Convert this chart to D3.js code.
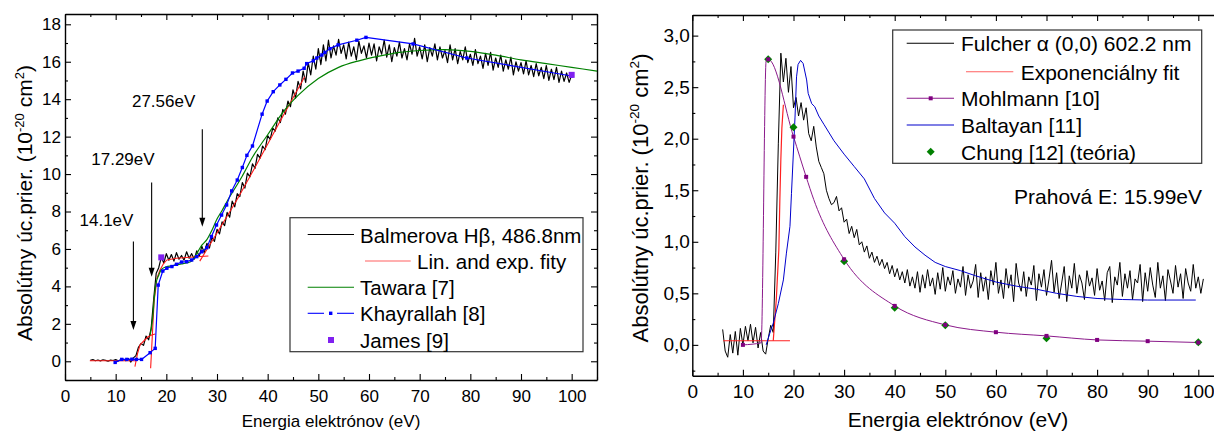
<!DOCTYPE html>
<html>
<head>
<meta charset="utf-8">
<script src="https://cdn.jsdelivr.net/npm/d3@7"></script>
<style>
body { margin: 0; background: #fff; }
svg { display: block; font-family: "Liberation Sans", Arial, sans-serif; }
.axis path { stroke: #000; stroke-width: 1.4; }
.axis line { stroke: #000; stroke-width: 1.1; }
.axis text { fill: #000; font-family: "Liberation Sans", Arial, sans-serif; }
</style>
</head>
<body>
<svg width="1214" height="432"></svg>
<script>
// ---- left panel data (Balmer H-beta) ----
var balmerStart = 5, balmerStep = 0.5;
var balmerY = [
  0.05,0.09,0.03,0.07,0.02,0.08,0.05,0.01,0.06,0.04,
  0.09,0.02,0.07,0.11,0.03,0.14,-0.04,0.18,0.3,0.75,
  0.95,0.85,1.35,1.15,1.75,3.3,4.7,5.0,5.55,5.25,
  5.75,5.4,5.7,5.35,5.8,5.45,5.65,5.4,5.85,5.5,
  5.75,5.45,5.9,5.6,6.15,5.8,6.3,6.05,6.65,6.4,
  7.05,6.8,7.45,7.25,7.95,7.7,8.55,8.25,8.95,8.8,
  9.55,9.25,10.05,9.85,10.55,10.3,11.05,10.85,11.5,11.3,
  12.05,11.85,12.45,12.3,13.0,12.75,13.45,13.2,13.9,13.6,
  14.5,14.05,14.95,14.55,15.5,14.9,15.95,15.3,16.3,15.6,
  16.7,15.85,16.9,16.05,17.15,16.2,16.85,16.35,17.2,16.45,
  16.9,16.15,17.05,16.3,16.8,16.1,17.1,16.45,16.85,16.2,
  17.0,16.35,16.95,16.05,16.8,16.4,17.15,16.25,16.9,16.0,
  16.75,16.3,17.05,16.2,16.7,16.1,16.95,16.4,17.25,16.3,
  16.8,16.15,16.9,16.0,16.75,16.3,16.95,16.1,16.8,16.2,
  16.6,15.95,16.9,16.1,16.7,15.9,16.55,16.1,16.8,15.95,
  16.4,15.8,16.65,15.9,16.3,15.65,16.45,15.8,16.5,15.55,
  16.2,15.7,16.35,15.5,16.1,15.6,16.25,15.3,16.0,15.5,
  15.95,15.35,16.05,15.3,15.8,15.2,15.9,15.25,15.7,15.1,
  15.8,15.0,15.6,15.05,15.7,14.9,15.5,14.95,15.4,14.9,
  15.3
];

// fits, each segment is [energies, values]
var fitSegments = [
  [[4.9, 14.1], [0.03, 0.03]],
  [[13.8, 14.3, 14.8, 15.5, 16.4, 17.1, 17.8], [-0.29, 0.4, 0.87, 1.07, 1.31, 1.4, 1.46]],
  [[16.9, 17.6, 18.1], [-0.37, 3.27, 4.25]],
  [[18.1, 18.75, 19.4, 20.1, 22, 24, 26, 28.3], [4.4, 4.88, 5.2, 5.41, 5.5, 5.54, 5.58, 5.62]],
  [[26.6, 30, 34, 38, 42, 47.3], [5.35, 6.85, 8.65, 10.6, 12.6, 15.2]]
];

var tawaraE = [16.8,17.3,17.7,18,18.5,19,20,21,22,23,24,25,26,27,28,29,30,31,32,33,35,37,40,43,46,50,54,58,62,66,70,75,80,85,90,95,100,105];
var tawaraS = [1.4,2.3,3.6,4.2,4.6,4.9,5.05,5.1,5.15,5.2,5.25,5.35,5.75,6.2,6.5,7.0,7.6,8.05,8.55,9.0,9.9,10.9,12.1,13.3,14.2,15.1,15.7,16.05,16.3,16.5,16.6,16.65,16.55,16.35,16.1,15.9,15.7,15.5];

var khayE = [9.9,11.2,12.2,13.2,14.1,15.1,16.8,17.8,18.4,19.3,20.1,21.1,22,23,24,25,26,27,28,28.9,29.9,30.9,31.9,32.9,34,35,35.9,37,38.9,39.9,41.1,42.4,43.6,44.9,46,47.2,47.7,49,49.7,50.7,51.3,52.3,53.9,57.6,59.4,68.7,79.3,100];
var khayS = [-0.06,0.1,0.1,0.11,0.1,0.1,0.46,0.69,4.07,4.82,4.97,5.06,5.18,5.3,5.32,5.41,5.59,5.85,6.07,6.66,7.28,7.81,8.35,9.1,9.68,10.35,11.0,11.5,13.2,13.9,14.4,14.76,15.06,15.4,15.5,15.65,15.9,16.05,16.2,16.36,16.5,16.7,16.9,17.15,17.3,16.95,16.2,15.24];

var jamesE = [19, 100];
var jamesS = [5.55, 15.3];

var thresholdE = [13.5, 17.1, 27.1];
var thresholdTop = [6.4, 9.55, 12.4];
var thresholdTip = [1.67, 4.52, 7.19];
var thresholdLabels = ["14.1eV", "17.29eV", "27.56eV"];
var thresholdLabelY = [7.2, 10.5, 13.6];

var leftLegend = ["Balmerova H\u03B2, 486.8nm", "Lin. and exp. fity", "Tawara [7]", "Khayrallah [8]", "James [9]"];

// ---- right panel data (Fulcher alpha) ----
var fulcherStart = 6, fulcherStep = 0.5;
var fulcherY = [
  0.15,-0.06,-0.12,0.1,-0.08,0.13,-0.1,0.16,0.0,0.18,
  0.04,0.2,0.02,0.17,-0.03,0.12,-0.06,-0.09,0.06,0.19,
  0.12,0.9,1.95,2.83,2.55,2.78,2.45,2.7,2.3,2.4,
  2.22,2.35,2.18,2.3,2.05,1.98,2.12,1.92,1.78,1.72,
  1.66,1.5,1.42,1.36,1.38,1.44,1.3,1.33,1.19,1.22,
  1.08,1.15,1.04,1.12,0.97,1.0,0.9,0.96,0.84,0.9,
  0.8,0.86,0.77,0.83,0.74,0.8,0.69,0.77,0.66,0.74,
  0.63,0.71,0.6,0.73,0.57,0.66,0.55,0.71,0.51,0.68,
  0.55,0.73,0.57,0.65,0.49,0.7,0.54,0.75,0.52,0.66,
  0.58,0.72,0.5,0.64,0.56,0.76,0.48,0.68,0.55,0.62,
  0.78,0.46,0.7,0.52,0.66,0.44,0.72,0.58,0.8,0.5,
  0.63,0.45,0.74,0.55,0.68,0.42,0.79,0.6,0.52,0.71,
  0.47,0.66,0.58,0.77,0.43,0.69,0.56,0.73,0.48,0.64,
  0.82,0.51,0.7,0.45,0.6,0.76,0.42,0.67,0.55,0.79,
  0.5,0.68,0.6,0.44,0.72,0.57,0.65,0.48,0.74,0.53,
  0.62,0.43,0.7,0.76,0.41,0.66,0.58,0.8,0.47,0.69,
  0.55,0.72,0.44,0.64,0.6,0.78,0.42,0.7,0.52,0.75,
  0.58,0.46,0.8,0.55,0.67,0.43,0.73,0.62,0.5,0.77,
  0.56,0.69,0.45,0.74,0.6,0.52,0.78,0.55,0.66,0.5,
  0.64
];

var expFitSegments = [
  [[6.1, 19.3], [0.04, 0.04]],
  [[16.0, 16.6, 17.1, 17.3, 17.5, 17.7, 18.0], [0.04, 0.44, 0.92, 1.4, 1.8, 2.1, 2.33]]
];

var mohlLineE = [10, 13.6, 14.6, 15, 20, 22.5, 24, 30, 40, 50, 60, 70, 80, 90, 100];
var mohlLineS = [0, 0.02, 2.76, 2.77, 2.02, 1.63, 1.41, 0.83, 0.378, 0.194, 0.123, 0.087, 0.048, 0.036, 0.023];
var mohlE = [10, 15, 20, 22.5, 30, 40, 50, 60, 70, 80, 90, 100];
var mohlS = [0, 2.77, 2.02, 1.63, 0.83, 0.378, 0.194, 0.123, 0.087, 0.048, 0.036, 0.023];

var baltE = [14.6,15.3,16,17,18,18.6,19.3,19.6,20,20.3,20.6,20.9,21.4,21.9,22.6,22.9,23.6,24.2,25,26,28,30,32,34,36,38,40,42,44,46,48,50,53,56,60,64,68,72,76,80,85,90,95,99.5];
var baltS = [0.0,0.11,0.21,0.4,0.63,0.89,1.15,1.47,1.89,2.21,2.6,2.72,2.76,2.73,2.57,2.44,2.34,2.31,2.22,2.14,1.98,1.85,1.73,1.61,1.42,1.28,1.18,1.05,0.95,0.87,0.8,0.76,0.72,0.67,0.61,0.57,0.54,0.5,0.47,0.45,0.44,0.435,0.435,0.435];

var chungE = [15, 20, 30, 40, 50, 70, 100];
var chungS = [2.77, 2.11, 0.81, 0.36, 0.19, 0.065, 0.025];

var rightLegend = ["Fulcher \u03B1 (0,0) 602.2 nm", "Exponenci\u00E1lny fit", "Mohlmann [10]", "Baltayan [11]", "Chung [12] (te\u00F3ria)"];
var thresholdNote = "Prahov\u00E1 E: 15.99eV";

var xTicks = [0, 10, 20, 30, 40, 50, 60, 70, 80, 90, 100];
var xMinor = [5, 15, 25, 35, 45, 55, 65, 75, 85, 95, 105];
var yTicksL = [0, 2, 4, 6, 8, 10, 12, 14, 16, 18];
var yMinorL = [-1, 1, 3, 5, 7, 9, 11, 13, 15, 17];
var yTicksR = [0, 0.5, 1, 1.5, 2, 2.5, 3];
var yMinorR = [-0.25, 0.25, 0.75, 1.25, 1.75, 2.25, 2.75];

var xTitle = "Energia elektr\u00F3nov (eV)";

// ---- drawing ----
var svg = d3.select("svg");

var xL = d3.scaleLinear().domain([0, 105]).range([65, 597]);
var yL = d3.scaleLinear().domain([-1, 18.55]).range([380, 14]);
var xR = d3.scaleLinear().domain([0, 105]).range([692.3, 1223.6]);
var yR = d3.scaleLinear().domain([-0.3, 3.2]).range([375.8, 15]);

function axes(x, y, o) {
  var g = svg.append("g").attr("class", "axis");
  var b = y.range()[0], t = y.range()[1], l = x.range()[0], r = x.range()[1];

  g.append("g").attr("transform", "translate(0," + b + ")")
    .call(d3.axisBottom(x).tickValues(xTicks).tickSizeInner(-6).tickSizeOuter(0).tickPadding(o.xPad))
    .selectAll("text").style("font-size", o.tick + "px");
  g.append("g").attr("transform", "translate(0," + b + ")")
    .call(d3.axisBottom(x).tickValues(xMinor).tickSizeInner(-3).tickSizeOuter(0).tickFormat(""))
    .select(".domain").remove();
  g.append("g").attr("transform", "translate(0," + t + ")")
    .call(d3.axisTop(x).tickValues(xTicks).tickSizeInner(-6).tickSizeOuter(0).tickFormat(""));
  g.append("g").attr("transform", "translate(0," + t + ")")
    .call(d3.axisTop(x).tickValues(xMinor).tickSizeInner(-3).tickSizeOuter(0).tickFormat(""))
    .select(".domain").remove();

  g.append("g").attr("transform", "translate(" + l + ",0)")
    .call(d3.axisLeft(y).tickValues(o.yTicks).tickSizeInner(-6).tickSizeOuter(0).tickPadding(o.yPad).tickFormat(o.fmt))
    .selectAll("text").style("font-size", o.tick + "px");
  g.append("g").attr("transform", "translate(" + l + ",0)")
    .call(d3.axisLeft(y).tickValues(o.yMinor).tickSizeInner(-3).tickSizeOuter(0).tickFormat(""))
    .select(".domain").remove();

  if (o.right) {
    g.append("g").attr("transform", "translate(" + r + ",0)")
      .call(d3.axisRight(y).tickValues(o.yTicks).tickSizeInner(-6).tickSizeOuter(0).tickFormat(""));
    g.append("g").attr("transform", "translate(" + r + ",0)")
      .call(d3.axisRight(y).tickValues(o.yMinor).tickSizeInner(-3).tickSizeOuter(0).tickFormat(""))
      .select(".domain").remove();
  }
}

axes(xL, yL, { yTicks: yTicksL, yMinor: yMinorL, tick: 17, xPad: 10, yPad: 4, fmt: d3.format("d"), right: true });
axes(xR, yR, { yTicks: yTicksR, yMinor: yMinorR, tick: 19, xPad: 8.5, yPad: 2.5,
  fmt: function(d) { return d3.format(".1f")(d).replace(".", ","); }, right: false });

function yTitle(cx, cy, size) {
  var s = size * 0.62;
  var t = svg.append("text").attr("transform", "translate(" + cx + "," + cy + ") rotate(-90)")
    .attr("text-anchor", "middle").style("font-size", size + "px");
  t.append("tspan").text("Absol\u00FAtny \u00FAc.prier. (10");
  t.append("tspan").attr("dy", -size * 0.4).style("font-size", s + "px").text("-20");
  t.append("tspan").attr("dy", size * 0.4).text(" cm");
  t.append("tspan").attr("dy", -size * 0.4).style("font-size", s + "px").text("2");
  t.append("tspan").attr("dy", size * 0.4).text(")");
}
yTitle(32, 203, 21);
yTitle(647.5, 198, 22);

svg.append("text").attr("x", 331).attr("y", 427).attr("text-anchor", "middle")
  .style("font-size", "17px").text(xTitle);
svg.append("text").attr("x", 958).attr("y", 427).attr("text-anchor", "middle")
  .style("font-size", "21px").text(xTitle);

function path(g, x, y, es, vs, color, w, curve) {
  var pts = es.map(function(e, i) { return [e, vs[i]]; });
  g.append("path").datum(pts)
    .attr("fill", "none").attr("stroke", color).attr("stroke-width", w)
    .attr("stroke-linejoin", "round")
    .attr("d", d3.line().x(function(d) { return x(d[0]); }).y(function(d) { return y(d[1]); }).curve(curve || d3.curveLinear));
}

// left plot marks
var gl = svg.append("g");
var balmerE = balmerY.map(function(v, i) { return balmerStart + i * balmerStep; });
path(gl, xL, yL, balmerE, balmerY, "#000", 1.2);
fitSegments.forEach(function(s) { path(gl, xL, yL, s[0], s[1], "#ff1a1a", 1.1); });
path(gl, xL, yL, tawaraE, tawaraS, "#008000", 1.2, d3.curveMonotoneX);
path(gl, xL, yL, khayE, khayS, "#0000ff", 1.2);
gl.selectAll(".kh").data(khayE).enter().append("rect")
  .attr("x", function(d) { return xL(d) - 1.7; })
  .attr("y", function(d, i) { return yL(khayS[i]) - 1.7; })
  .attr("width", 3.4).attr("height", 3.4).attr("fill", "#0000ff");
gl.selectAll(".ja").data(jamesE).enter().append("rect")
  .attr("x", function(d) { return xL(d) - 3; })
  .attr("y", function(d, i) { return yL(jamesS[i]) - 3; })
  .attr("width", 6).attr("height", 6).attr("fill", "#8020f0");

// threshold arrows
thresholdE.forEach(function(e, i) {
  var x = xL(e), y0 = yL(thresholdTop[i]), y1 = yL(thresholdTip[i]);
  gl.append("line").attr("x1", x).attr("x2", x).attr("y1", y0).attr("y2", y1 - 8)
    .attr("stroke", "#000").attr("stroke-width", 1.1);
  gl.append("path").attr("d", "M" + (x - 3) + "," + (y1 - 9) + "L" + (x + 3) + "," + (y1 - 9) + "L" + x + "," + y1 + "Z")
    .attr("fill", "#000");
});
var labelDx = [0, 3, -7];
thresholdLabels.forEach(function(s, i) {
  gl.append("text").attr("x", xL(thresholdE[i]) + labelDx[i]).attr("y", yL(thresholdLabelY[i]))
    .attr("text-anchor", "end").style("font-size", "17px").text(s);
});

// left legend
var ll = svg.append("g");
ll.append("rect").attr("x", 290).attr("y", 217.7).attr("width", 293).attr("height", 134)
  .attr("fill", "#fff").attr("stroke", "#333").attr("stroke-width", 1.2);
var llY = [234.5, 261, 287.3, 313.3, 340];
var llColors = ["#000", "#ff6060", "#008000", "#0000ff", "#8020f0"];
leftLegend.forEach(function(s, i) {
  var x1 = i === 1 ? 365 : 307.7, x2 = i === 1 ? 410.7 : 354, tx = i === 1 ? 417 : 360;
  if (i < 3) {
    ll.append("line").attr("x1", x1).attr("x2", x2).attr("y1", llY[i]).attr("y2", llY[i])
      .attr("stroke", llColors[i]).attr("stroke-width", 1.1);
  } else if (i === 3) {
    ll.append("line").attr("x1", 307.7).attr("x2", 324).attr("y1", llY[i]).attr("y2", llY[i])
      .attr("stroke", llColors[i]).attr("stroke-width", 1.1);
    ll.append("line").attr("x1", 337).attr("x2", 354).attr("y1", llY[i]).attr("y2", llY[i])
      .attr("stroke", llColors[i]).attr("stroke-width", 1.1);
    ll.append("rect").attr("x", 329).attr("y", llY[i] - 1.7).attr("width", 3.4).attr("height", 3.4).attr("fill", llColors[i]);
  } else {
    ll.append("rect").attr("x", 328).attr("y", llY[i] - 3).attr("width", 6).attr("height", 6).attr("fill", llColors[i]);
  }
  ll.append("text").attr("x", tx).attr("y", llY[i] + 8).style("font-size", "20.5px").text(s);
});

// right plot marks
var gr = svg.append("g");
var fulcherE = fulcherY.map(function(v, i) { return fulcherStart + i * fulcherStep; });
path(gr, xR, yR, fulcherE, fulcherY, "#000", 1);
expFitSegments.forEach(function(s) { path(gr, xR, yR, s[0], s[1], "#ff2020", 1.2); });
path(gr, xR, yR, mohlLineE, mohlLineS, "#8b1a8b", 1, d3.curveMonotoneX);
path(gr, xR, yR, baltE, baltS, "#0000cc", 1);
gr.selectAll(".ch").data(chungE).enter().append("path")
  .attr("d", function(d, i) {
    var x = xR(d), y = yR(chungS[i]);
    return "M" + x + "," + (y - 4) + "L" + (x + 4) + "," + y + "L" + x + "," + (y + 4) + "L" + (x - 4) + "," + y + "Z";
  }).attr("fill", "#008000");
gr.selectAll(".mo").data(mohlE).enter().append("rect")
  .attr("x", function(d) { return xR(d) - 2; })
  .attr("y", function(d, i) { return yR(mohlS[i]) - 2; })
  .attr("width", 4).attr("height", 4).attr("fill", "#800080");

// right legend
var rl = svg.append("g");
rl.append("rect").attr("x", 892.7).attr("y", 30).attr("width", 309).attr("height", 133.3)
  .attr("fill", "#fff").attr("stroke", "#333").attr("stroke-width", 1.2);
var rlY = [43.3, 71.7, 98.3, 125, 151.7];
var rlColors = ["#000", "#ff6060", "#8b1a8b", "#0000cc", "#008000"];
rightLegend.forEach(function(s, i) {
  var x1 = i === 1 ? 966 : 906.7, x2 = i === 1 ? 1013.3 : 954, tx = i === 1 ? 1020.7 : 961;
  if (i < 4) {
    rl.append("line").attr("x1", x1).attr("x2", x2).attr("y1", rlY[i]).attr("y2", rlY[i])
      .attr("stroke", rlColors[i]).attr("stroke-width", 1.1);
  }
  if (i === 2) {
    rl.append("rect").attr("x", 928.7).attr("y", rlY[i] - 2).attr("width", 4).attr("height", 4).attr("fill", "#800080");
  }
  if (i === 4) {
    rl.append("path").attr("d", "M930.7," + (rlY[i] - 4) + "L934.7," + rlY[i] + "L930.7," + (rlY[i] + 4) + "L926.7," + rlY[i] + "Z")
      .attr("fill", "#008000");
  }
  rl.append("text").attr("x", tx).attr("y", rlY[i] + 8).style("font-size", "21px").text(s);
});

svg.append("text").attr("x", 1202).attr("y", 204).attr("text-anchor", "end")
  .style("font-size", "21px").text(thresholdNote);
</script>
</body>
</html>
